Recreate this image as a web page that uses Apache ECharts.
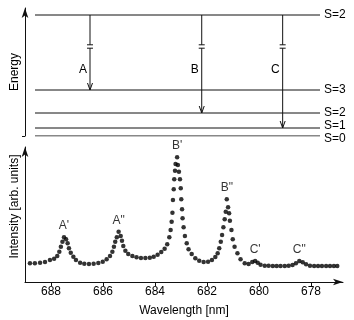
<!DOCTYPE html>
<html>
<head>
<meta charset="utf-8">
<script src="https://cdn.jsdelivr.net/npm/echarts@6/dist/echarts.min.js"></script>
<style>
  html, body { margin: 0; padding: 0; background: #fff; }
  #chart { width: 354px; height: 320px; }
</style>
</head>
<body>
<div id="chart"></div>
<script>
const FONT = '"Liberation Sans", Arial, Helvetica, sans-serif';

// energy level diagram (arbitrary energy units)
const levelNames = ["S=2", "S=3", "S=2", "S=1", "S=0"];
const levelEnergy = [121, 46, 23, 8, 0];
const transNames = ["A", "B", "C"];
const transX = [0.193, 0.585, 0.869];
const transTo = [1, 2, 3];

// spectrum
const wavelength = [688.81,688.62,688.42,688.23,688.04,687.88,687.76,687.68,687.62,687.56,
  687.50,687.42,687.36,687.31,687.24,687.14,687.04,686.88,686.72,686.54,
  686.36,686.18,686.01,685.86,685.73,685.64,685.58,685.53,685.47,685.40,
  685.32,685.27,685.22,685.14,685.03,684.87,684.71,684.54,684.37,684.20,
  684.05,683.90,683.76,683.63,683.53,683.45,683.40,683.36,683.33,683.31,
  683.28,683.26,683.23,683.21,683.15,683.12,683.08,683.04,683.01,682.99,
  682.96,682.94,682.90,682.85,682.78,682.71,682.59,682.45,682.30,682.13,
  681.96,681.81,681.68,681.59,681.53,681.47,681.42,681.37,681.32,681.28,
  681.24,681.19,681.15,681.12,681.06,681.01,680.94,680.83,680.71,680.55,
  680.40,680.26,680.15,680.05,679.94,679.78,679.63,679.47,679.32,679.17,
  679.01,678.86,678.71,678.58,678.45,678.32,678.19,678.04,677.88,677.73,
  677.58,677.42,677.27,677.12,676.99];
const intensity = [18.7,18.7,19.3,20.0,22.0,23.3,26.0,30.3,35.3,40.3,
  44.7,42.7,38.7,33.7,29.3,25.3,22.0,19.3,18.3,18.0,
  18.3,19.0,20.3,22.7,26.0,30.3,35.3,40.3,44.7,50.3,
  46.0,41.3,36.0,31.3,28.0,26.0,24.7,24.0,24.0,24.3,
  25.3,27.3,30.0,33.3,37.7,44.7,52.0,60.3,69.3,82.0,
  92.7,102.7,111.3,118.0,124.7,117.0,110.3,102.7,93.7,82.7,
  72.7,63.7,54.7,46.0,38.7,32.7,28.0,23.7,21.3,20.0,
  20.3,22.0,25.0,28.7,33.7,40.3,47.0,54.7,62.7,70.3,
  82.7,74.7,68.7,61.3,52.0,42.7,35.3,28.7,22.7,18.7,
  18.0,20.0,21.0,19.3,17.3,16.3,16.3,16.0,16.0,16.0,
  16.0,16.3,17.0,18.7,21.0,19.7,17.7,16.3,16.0,16.0,
  16.0,16.0,16.0,16.0,16.0];
const peakNames = ["A'", 'A"', "B'", 'B"', "C'", 'C"'];
const peakIndex = [10, 29, 54, 80, 92, 104];
const xTicks = [678, 680, 682, 684, 686, 688];

const BREAK_E = 89.5, LABEL_E = 66;
const levelLabelDy = [0, 0, 0, -2, 2.5];   // keep the two lowest labels apart
const ink = "#111";
const txt = { fontSize: 12, color: "#000", fontFamily: FONT };

const spectrum = wavelength.map((w, i) => {
  const k = peakIndex.indexOf(i);
  const item = { value: [w, intensity[i]] };
  if (k >= 0) item.label = { show: true, formatter: peakNames[k], position: "top", distance: 3, ...txt };
  return item;
});

const levelSeries = levelNames.map((name, i) => ({
  type: "line", xAxisIndex: 0, yAxisIndex: 0, symbol: "none", silent: true,
  data: [[0, levelEnergy[i]], [1, levelEnergy[i]]],
  lineStyle: { color: ink, width: 1 },
  endLabel: { show: true, formatter: name, distance: 4, offset: [0, levelLabelDy[i]], ...txt },
  labelLayout: { hideOverlap: false }
}));

const lineStyle = { stroke: ink, lineWidth: 1 };
const transSeries = {
  type: "custom", xAxisIndex: 0, yAxisIndex: 0, clip: false, silent: true,
  data: transNames.map((n, i) => [transX[i], levelEnergy[0], levelEnergy[transTo[i]], n]),
  renderItem(params, api) {
    const top = api.coord([api.value(0), api.value(1)]);
    const bot = api.coord([api.value(0), api.value(2)]);
    const brk = api.coord([api.value(0), BREAK_E]);
    const lab = api.coord([api.value(0), LABEL_E]);
    const x = top[0], g1 = brk[1] - 1.7, g2 = brk[1] + 1.7;
    return { type: "group", children: [
      { type: "line", shape: { x1: x, y1: top[1], x2: x, y2: g1 }, style: lineStyle },
      { type: "line", shape: { x1: x - 3, y1: g1, x2: x + 3, y2: g1 }, style: lineStyle },
      { type: "line", shape: { x1: x - 3, y1: g2, x2: x + 3, y2: g2 }, style: lineStyle },
      { type: "line", shape: { x1: x, y1: g2, x2: x, y2: bot[1] }, style: lineStyle },
      { type: "polyline", shape: { points: [[x - 2.5, bot[1] - 7], [x, bot[1]], [x + 2.5, bot[1] - 7]] },
        style: { ...lineStyle, fill: null } },
      { type: "text", x: x - 3, y: lab[1],
        style: { text: api.value(3), align: "right", verticalAlign: "middle",
          font: `12px ${FONT}`, fill: "#000" } }
    ]};
  }
};

const chart = echarts.init(document.getElementById("chart"), null, { renderer: "canvas" });
chart.setOption({
  animation: false,
  backgroundColor: "#fff",
  grid: [
    { left: 35, right: 34, top: 8, bottom: 184 },
    { left: 25, right: 11, top: 147, bottom: 38 }
  ],
  xAxis: [
    { gridIndex: 0, type: "value", min: 0, max: 1, show: false },
    { gridIndex: 1, type: "value", inverse: true, min: 676.77, max: 689,
      name: "Wavelength [nm]", nameLocation: "middle", nameGap: 23, nameTextStyle: txt,
      axisLine: { show: true, onZero: false, symbol: ["none", "arrow"], symbolSize: [5, 10], lineStyle: { color: ink, width: 1 } },
      axisTick: { show: true, customValues: xTicks, length: 4, lineStyle: { color: ink } },
      axisLabel: { customValues: xTicks, margin: 4, ...txt },
      splitLine: { show: false } }
  ],
  yAxis: [
    { gridIndex: 0, type: "value", min: 0, max: 128, offset: 10,
      name: "Energy", nameLocation: "middle", nameGap: 4, nameTextStyle: txt,
      axisLine: { show: true, onZero: false, symbol: ["none", "arrow"], symbolSize: [5, 10], lineStyle: { color: ink, width: 1 } },
      axisTick: { show: true, customValues: [0], length: 3, lineStyle: { color: ink } },
      axisLabel: { show: false }, splitLine: { show: false } },
    { gridIndex: 1, type: "value", min: 0, max: 135,
      name: "Intensity [arb. units]", nameLocation: "middle", nameGap: 4,
      nameTextStyle: { ...txt, padding: [0, 0, 0, 16] },
      axisLine: { show: true, onZero: false, symbol: ["none", "arrow"], symbolSize: [5, 10], lineStyle: { color: ink, width: 1 } },
      axisTick: { show: false }, axisLabel: { show: false }, splitLine: { show: false } }
  ],
  series: [
    ...levelSeries,
    transSeries,
    { type: "scatter", xAxisIndex: 1, yAxisIndex: 1, symbolSize: 4.5, silent: true,
      itemStyle: { color: "#000" }, data: spectrum }
  ]
});
</script>
</body>
</html>
